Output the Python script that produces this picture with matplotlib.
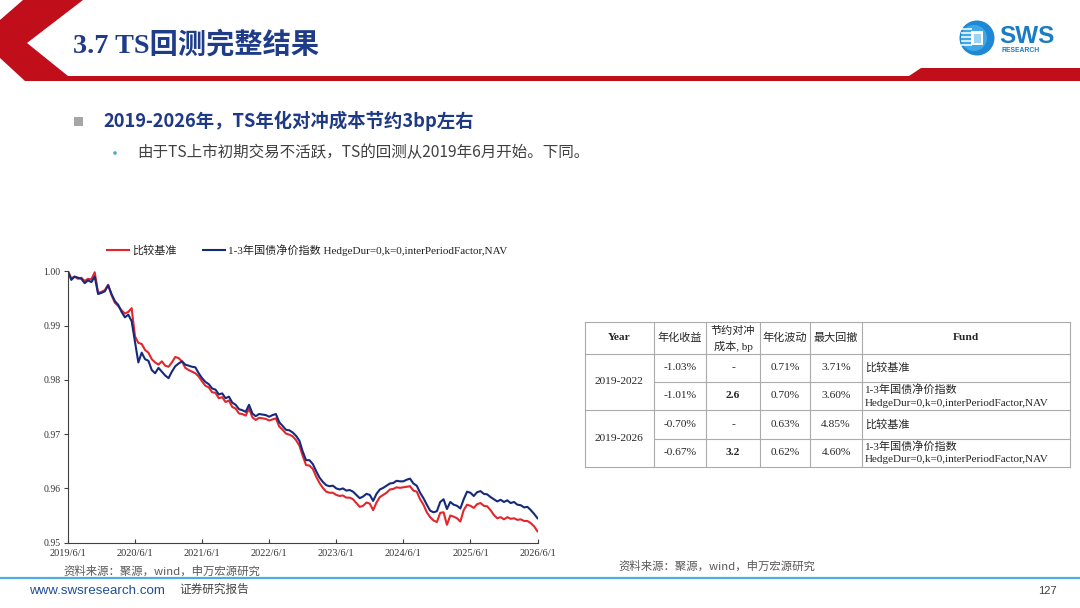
import numpy as np
import pandas as pd
import matplotlib
matplotlib.use("Agg")
import matplotlib.pyplot as plt
from matplotlib.patches import Polygon, Circle, Rectangle

CJK = 'Noto Sans CJK SC'
SERIF = ['Liberation Serif', CJK]
SANS = ['Liberation Sans', CJK]
plt.rcParams['font.family'] = SERIF

# ---------------- data ----------------
x_tick_labels = ["2019/6/1", "2020/6/1", "2021/6/1", "2022/6/1",
                 "2023/6/1", "2024/6/1", "2025/6/1", "2026/6/1"]
y_ticks = [0.95, 0.96, 0.97, 0.98, 0.99, 1.00]
series_names = ["比较基准", "1-3年国债净价指数 HedgeDur=0,k=0,interPeriodFactor,NAV"]

benchmark = [
    1.0000, 0.9987, 0.9990, 0.9986, 0.9988, 0.9982, 0.9986, 0.9985, 0.9998, 0.9960,
    0.9962, 0.9965, 0.9975, 0.9956, 0.9942, 0.9936, 0.9928, 0.9922, 0.9925, 0.9932,
    0.9880, 0.9868, 0.9866, 0.9855, 0.9850, 0.9838, 0.9832, 0.9828, 0.9834, 0.9826,
    0.9824, 0.9832, 0.9842, 0.9840, 0.9834, 0.9822, 0.9818, 0.9815, 0.9812, 0.9806,
    0.9797, 0.9789, 0.9786, 0.9777, 0.9776, 0.9766, 0.9768, 0.9759, 0.9762, 0.9750,
    0.9747, 0.9738, 0.9737, 0.9734, 0.9747, 0.9731, 0.9726, 0.9730, 0.9729, 0.9728,
    0.9725, 0.9727, 0.9729, 0.9714, 0.9708, 0.9701, 0.9699, 0.9696, 0.9689, 0.9679,
    0.9660, 0.9643, 0.9642, 0.9636, 0.9622, 0.9610, 0.9601, 0.9594, 0.9592, 0.9592,
    0.9588, 0.9586, 0.9587, 0.9583, 0.9583, 0.9580, 0.9573, 0.9566, 0.9568, 0.9574,
    0.9572, 0.9560, 0.9574, 0.9584, 0.9588, 0.9592, 0.9598, 0.9599, 0.9602, 0.9601,
    0.9602, 0.9603, 0.9604, 0.9596, 0.9594, 0.9580, 0.9570, 0.9556, 0.9547, 0.9541,
    0.9538, 0.9555, 0.9556, 0.9533, 0.9550, 0.9548, 0.9545, 0.9539, 0.9560, 0.9570,
    0.9568, 0.9564, 0.9571, 0.9573, 0.9568, 0.9567, 0.9560, 0.9551, 0.9545, 0.9547,
    0.9543, 0.9547, 0.9544, 0.9545, 0.9542, 0.9543, 0.9540, 0.9540, 0.9536, 0.9530,
    0.9521,
]
hedged = [
    1.0000, 0.9984, 0.9990, 0.9988, 0.9986, 0.9978, 0.9983, 0.9980, 0.9990, 0.9958,
    0.9960, 0.9963, 0.9974, 0.9958, 0.9945, 0.9938, 0.9925, 0.9915, 0.9920, 0.9908,
    0.9870, 0.9832, 0.9850, 0.9838, 0.9835, 0.9818, 0.9812, 0.9822, 0.9815, 0.9808,
    0.9803, 0.9815, 0.9825, 0.9830, 0.9834, 0.9828, 0.9826, 0.9824, 0.9823, 0.9812,
    0.9803, 0.9796, 0.9792, 0.9784, 0.9782, 0.9773, 0.9775, 0.9766, 0.9769, 0.9758,
    0.9754, 0.9746, 0.9744, 0.9741, 0.9754, 0.9738, 0.9733, 0.9737, 0.9736, 0.9735,
    0.9732, 0.9735, 0.9737, 0.9722, 0.9715, 0.9708, 0.9707, 0.9703, 0.9697, 0.9688,
    0.9668, 0.9652, 0.9652, 0.9645, 0.9632, 0.9620, 0.9612, 0.9606, 0.9604, 0.9605,
    0.9600, 0.9598, 0.9600, 0.9596, 0.9597, 0.9594, 0.9588, 0.9582, 0.9585, 0.9590,
    0.9588, 0.9577, 0.9590, 0.9598, 0.9601, 0.9605, 0.9609, 0.9610, 0.9614, 0.9613,
    0.9613, 0.9616, 0.9618, 0.9609, 0.9605, 0.9592, 0.9582, 0.9570, 0.9559, 0.9556,
    0.9558, 0.9575, 0.9580, 0.9562, 0.9575, 0.9570, 0.9568, 0.9563, 0.9580, 0.9594,
    0.9592, 0.9586, 0.9593, 0.9595, 0.9590, 0.9589, 0.9584, 0.9580, 0.9576, 0.9579,
    0.9575, 0.9578, 0.9573, 0.9575, 0.9570, 0.9569, 0.9565, 0.9566, 0.9560, 0.9553,
    0.9545,
]

table_header = ["Year", "年化收益", "节约对冲\n成本, bp", "年化波动", "最大回撤", "Fund"]
table_years = ["2019-2022", "2019-2026"]
ann_return = ["-1.03%", "-1.01%", "-0.70%", "-0.67%"]
hedge_saving = ["-", "2.6", "-", "3.2"]
ann_vol = ["0.71%", "0.70%", "0.63%", "0.62%"]
max_dd = ["3.71%", "3.60%", "4.85%", "4.60%"]
fund_names = ["比较基准",
              "1-3年国债净价指数\nHedgeDur=0,k=0,interPeriodFactor,NAV",
              "比较基准",
              "1-3年国债净价指数\nHedgeDur=0,k=0,interPeriodFactor,NAV"]

title = "3.7 TS回测完整结果"
heading = "2019-2026年，TS年化对冲成本节约3bp左右"
subnote = "由于TS上市初期交易不活跃，TS的回测从2019年6月开始。下同。"
source = "资料来源：聚源，wind，申万宏源研究"

# ---------------- figure ----------------
W, H = 1080, 608
fig = plt.figure(figsize=(10.8, 6.08), dpi=100)
fig.patch.set_facecolor('white')
bg = fig.add_axes([0, 0, 1, 1])
bg.set_xlim(0, W)
bg.set_ylim(H, 0)
bg.axis('off')

# header chevron + red bar
RED = '#C00F1B'
bg.add_patch(Polygon([(23, 0), (83, 0), (27, 43), (68, 76), (909, 76), (921, 68),
                      (1080, 68), (1080, 81), (25, 81), (0, 58), (0, 20)],
                     closed=True, facecolor=RED, edgecolor='none'))
bg.text(73, 45, title, fontsize=20.3, fontweight='bold', color='#1F3C88',
        family=SERIF, ha='left', va='center')

# logo
bg.add_patch(Circle((977, 38), 17.5, facecolor='#1E88D4', edgecolor='none'))
bg.add_patch(Circle((974, 38), 13, facecolor='#3FA9E8', edgecolor='none'))
for yy in (29, 33, 37, 41, 45):
    bg.plot([961, 972], [yy, yy], color='white', lw=1.1, solid_capstyle='butt')
bg.add_patch(Rectangle((971, 31), 12, 14, facecolor='white', edgecolor='none'))
bg.add_patch(Rectangle((974, 34), 7, 9, facecolor='#9ED3F2', edgecolor='none'))
bg.text(999, 36.5, "SWS", fontsize=17.5, fontweight='bold', color='#1A7CC4',
        family='Liberation Sans', ha='left', va='center')
bg.text(1001.5, 50.5, "RESEARCH", fontsize=4.9, fontweight='bold', color='#1A7CC4',
        family='Liberation Sans', ha='left', va='center')

# bullets
bg.add_patch(Rectangle((74, 117), 9, 9, facecolor='#A6A6A6', edgecolor='none'))
bg.text(103, 121, heading, fontsize=13.2, fontweight='bold', color='#1F3A85',
        family=[CJK], ha='left', va='center')
bg.add_patch(Circle((115, 153), 1.8, facecolor='#4BACC6', edgecolor='none'))
bg.text(137, 152.5, subnote, fontsize=11.2, color='#404040',
        family=[CJK], ha='left', va='center')

# ---------------- chart ----------------
ax_l, ax_r, ax_t, ax_b = 67.9, 537.5, 271.2, 542.7
ax = fig.add_axes([ax_l / W, 1 - ax_b / H, (ax_r - ax_l) / W, (ax_b - ax_t) / H])
ax.patch.set_alpha(0)
tick_dates = pd.to_datetime(x_tick_labels, format="%Y/%m/%d")
dates = pd.date_range(tick_dates[0], tick_dates[-1], periods=len(benchmark))
ax.plot(dates, benchmark, color='#E2262B', lw=1.5, label=series_names[0])
ax.plot(dates, hedged, color='#152A7C', lw=1.5, label=series_names[1])
ax.set_xlim(tick_dates[0], tick_dates[-1])
ax.set_ylim(y_ticks[0], y_ticks[-1])
ax.set_xticks(tick_dates)
ax.set_xticklabels(x_tick_labels)
ax.set_yticks(y_ticks)
ax.set_yticklabels([f"{v:.2f}" for v in y_ticks])
for s in ('top', 'right'):
    ax.spines[s].set_visible(False)
for s in ('left', 'bottom'):
    ax.spines[s].set_color('#404040')
    ax.spines[s].set_linewidth(0.8)
ax.tick_params(axis='x', direction='in', length=3, width=0.8, pad=4.5,
               labelsize=7.5, color='#404040', labelcolor='#333333')
ax.tick_params(axis='y', direction='out', length=3, width=0.8, pad=2.5,
               labelsize=7, color='#404040', labelcolor='#333333')
leg = ax.legend(loc='center left',
                bbox_to_anchor=((107 - ax_l) / (ax_r - ax_l), 1 + (ax_t - 250) / (ax_b - ax_t)),
                ncol=2, frameon=False, handlelength=2.0, handletextpad=0.25,
                columnspacing=2.4, borderpad=0, borderaxespad=0,
                prop={'family': SERIF, 'size': 8})
for t in leg.get_texts():
    t.set_color('#222222')

bg.text(63, 571.5, source, fontsize=8.2, color='#595959', family=[CJK],
        ha='left', va='center')

# ---------------- table ----------------
col_x = [585, 653.5, 706, 760, 810, 862, 1070]
row_y = [321.5, 353.5, 381.5, 410, 438.5, 466.5]
GRID = '#ABABAB'
for xx in col_x:
    bg.plot([xx, xx], [row_y[0], row_y[-1]], color=GRID, lw=0.8)
for i, yy in enumerate(row_y):
    x0 = col_x[1] if i in (2, 4) else col_x[0]
    bg.plot([x0, col_x[-1]], [yy, yy], color=GRID, lw=0.8)

TXT = '#262626'
hy = (row_y[0] + row_y[1]) / 2
for j, h in enumerate(table_header):
    cx = (col_x[j] + col_x[j + 1]) / 2
    if j in (0, 5):
        bg.text(cx, hy, h, fontsize=8.2, fontweight='bold', color=TXT, family=SERIF,
                ha='center', va='center')
    elif '\n' in h:
        l1, l2 = h.split('\n')
        bg.text(cx, hy - 7, l1, fontsize=8, color=TXT, family=[CJK], ha='center', va='center')
        bg.text(cx, hy + 8.5, l2, fontsize=8, color=TXT, family=SERIF, ha='center', va='center')
    else:
        bg.text(cx, hy, h, fontsize=8, color=TXT, family=[CJK], ha='center', va='center')

for k, yr in enumerate(table_years):
    cy = (row_y[1 + 2 * k] + row_y[3 + 2 * k]) / 2
    bg.text((col_x[0] + col_x[1]) / 2, cy, yr, fontsize=8.2, color=TXT,
            family=SERIF, ha='center', va='center')

for r in range(4):
    cy = (row_y[r + 1] + row_y[r + 2]) / 2
    vals = [ann_return[r], hedge_saving[r], ann_vol[r], max_dd[r]]
    for j, v in enumerate(vals):
        cx = (col_x[j + 1] + col_x[j + 2]) / 2
        bold = (j == 1 and v != '-')
        bg.text(cx, cy, v, fontsize=8.2, color=TXT, family=SERIF,
                fontweight='bold' if bold else 'normal', ha='center', va='center')
    lines = fund_names[r].split('\n')
    if len(lines) == 1:
        bg.text(col_x[5] + 3, cy, lines[0], fontsize=8, color=TXT, family=SERIF,
                ha='left', va='center')
    else:
        bg.text(col_x[5] + 3, cy - 6.5, lines[0], fontsize=8, color=TXT, family=SERIF,
                ha='left', va='center')
        bg.text(col_x[5] + 3, cy + 7.5, lines[1], fontsize=8, color=TXT, family=SERIF,
                ha='left', va='center')

bg.text(618, 566.5, source, fontsize=8.2, color='#595959', family=[CJK],
        ha='left', va='center')

# ---------------- footer ----------------
bg.plot([0, W], [578, 578], color='#4FAEE0', lw=1.6)
bg.text(29, 591.5, "www.swsresearch.com", fontsize=9.6, color='#1F4E9A',
        family=SANS, ha='left', va='center')
bg.text(179, 589, "证券研究报告", fontsize=8.4, color='#404040', family=[CJK],
        ha='left', va='center')
bg.text(1057, 591.5, "127", fontsize=8, color='#404040', family=SANS,
        ha='right', va='center')

fig.savefig("out.png", dpi=100, facecolor='white')
